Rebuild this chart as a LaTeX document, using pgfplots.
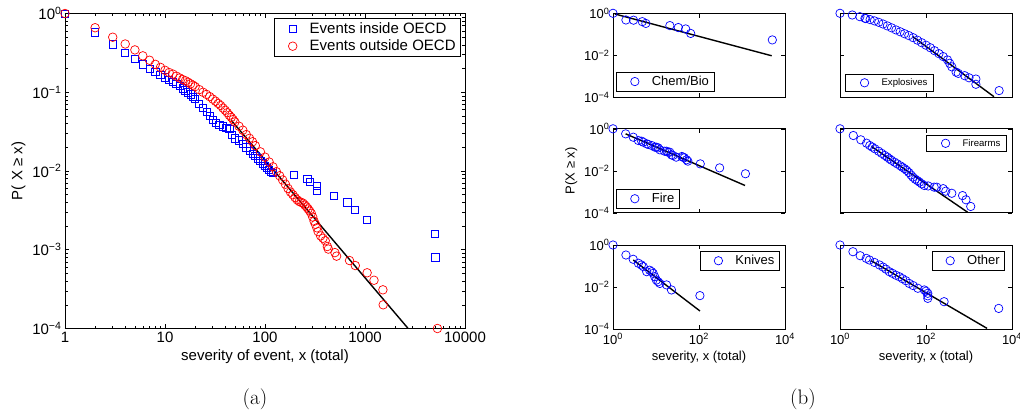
\documentclass[border=0pt]{standalone}
\usepackage{fontspec}
\usepackage{pgfplots}
\pgfplotsset{compat=1.18}
\newfontfamily\hv{Liberation Sans}
\begin{document}
\begin{tikzpicture}[x=1pt,y=1pt]
\pgfplotsset{
  every axis/.append style={scale only axis, xmode=log, ymode=log,
    axis line style={line width=0.8pt},
    every tick/.style={black, line width=0.6pt},
    xmin=1,xmax=10000,ymin=1e-4,ymax=1,
    legend cell align=left,
    legend style={draw=black, line width=0.8pt, fill=white},
    legend image code/.code={\path[draw=none,fill=none] (0pt,-4pt) rectangle (30pt,4pt); \draw[#1] plot coordinates {(15pt,0pt)};},
  },
  bcirc/.style={only marks, mark=o, mark size=4.2pt, mark options={draw=blue, line width=0.7pt}},
  fitl/.style={black, line width=1.4pt, no marks},
  small/.style={width=172pt, height=84pt, xtick={1,100,10000}, ytick={1e-4,1e-2,1},
    xminorticks=false, yminorticks=false,
    tick label style={font=\hv\fontsize{13}{15}\selectfont},
    xticklabel style={yshift=-1pt},
    label style={font=\hv\fontsize{13}{15}\selectfont}},
  noxl/.style={xticklabels={}},
  noyl/.style={yticklabels={}},
  xl/.style={xticklabels={10\textsuperscript{0},10\textsuperscript{2},10\textsuperscript{4}}, xlabel={severity, x (total)}},
  yl/.style={yticklabels={10\textsuperscript{−4},10\textsuperscript{−2},10\textsuperscript{0}}},
}
% ---------------- (a) ----------------
\begin{axis}[at={(65pt,-13.5pt)}, anchor=north west, width=400pt, height=315pt,
  xtick={1,10,100,1000,10000}, xticklabels={1,10,100,1000,10000},
  ytick={1e-4,1e-3,1e-2,1e-1,1},
  yticklabels={10\textsuperscript{−4},10\textsuperscript{−3},10\textsuperscript{−2},10\textsuperscript{−1},10\textsuperscript{0}},
  tick label style={font=\hv\fontsize{15}{17}\selectfont},
  label style={font=\hv\fontsize{15}{17}\selectfont},
  xlabel={severity of event, x (total)}, ylabel={P( X ≥ x)},
  legend style={at={(0.99,0.985)}, anchor=north east, font=\hv\fontsize{15}{17}\selectfont, row sep=1pt},
]
\addplot[only marks, mark=square, mark size=3.6pt, mark options={draw=blue, line width=0.7pt}] coordinates {
(1,1)(2,0.575)(3,0.405)(4,0.318)(5,0.264)(6,0.226)(7,0.197)(8,0.18)(9,0.165)(10,0.155)
(11,0.145)(12,0.137)(13,0.128)(14,0.12)(15,0.112)(16,0.106)(17,0.1)(18,0.094)(19,0.088)(20,0.082)
(22,0.072)(24,0.064)(26,0.057)(28,0.050)(30,0.045)(32,0.041)(35,0.039)(38,0.037)(41,0.035)(44,0.034)
(47,0.029)(50,0.026)(55,0.0245)(60,0.022)(65,0.020)(70,0.018)(75,0.0165)(80,0.0155)(85,0.0145)(90,0.0135)
(95,0.0125)(100,0.0115)(105,0.011)(110,0.0104)(115,0.0098)(120,0.0094)
(196,0.0089)(265,0.0080)(282,0.0072)(328,0.0065)(330,0.0056)(484,0.0048)(667,0.0040)(794,0.0032)(1047,0.0024)
(5012,0.0016)(5050,0.0008)
};
\addlegendentry{Events inside OECD}
\addplot[only marks, mark=o, mark size=4.3pt, mark options={draw=red, line width=0.7pt}] coordinates {
(1,1)(2,0.66)(3,0.50)(4,0.41)(5,0.345)(6,0.29)(7,0.255)(8,0.226)(9,0.207)(10,0.19)
(11,0.178)(12,0.17)(13,0.16)(14,0.152)(15,0.145)(16,0.14)(17,0.134)(18,0.128)(19,0.123)(20,0.118)
(22,0.108)(24,0.1)(26,0.094)(28,0.088)(30,0.082)(32,0.077)(34,0.072)(36,0.068)(38,0.063)(40,0.059)
(42,0.055)(44,0.051)(46,0.048)(48,0.045)(50,0.042)(55,0.037)(60,0.033)(65,0.029)(70,0.026)(75,0.0235)
(80,0.021)(90,0.0175)(100,0.0150)(110,0.0130)(120,0.0113)(130,0.0098)(140,0.0087)(150,0.0077)(160,0.0068)(170,0.006)
(180,0.0054)(190,0.0050)(200,0.0046)(210,0.0043)(220,0.0041)(230,0.0040)(240,0.0039)(250,0.0037)(260,0.0035)(270,0.0033)
(280,0.0031)(290,0.0029)(300,0.0026)(310,0.0023)(320,0.0021)(330,0.0019)(340,0.0017)(360,0.0015)(380,0.0014)(400,0.0013)
(420,0.0011)(430,0.00102)(500,0.00092)(520,0.00083)(700,0.00073)(800,0.00063)(1050,0.00051)(1230,0.00041)(1510,0.00031)(1520,0.00020)
(5300,0.0001)
};
\addlegendentry{Events outside OECD}
\addplot[fitl, forget plot] coordinates {(46,0.044)(2700,0.0001)};
\end{axis}
% ---------------- (b) ----------------
% Chem/Bio
\begin{axis}[small, noxl, yl, at={(613pt,-13.3pt)}, anchor=north west,
  legend style={at={(0.02,0.07)}, anchor=south west, font=\hv\fontsize{13}{15}\selectfont}]
\addplot[bcirc] coordinates {(1,1)(2,0.48)(3,0.47)(4.8,0.40)(5.8,0.33)(21,0.26)(33,0.21)(49,0.18)(64,0.11)(5070,0.054)};
\addlegendentry{Chem/Bio}
\addplot[fitl, forget plot] coordinates {(1.1,0.93)(4900,0.0095)};
\end{axis}
% Explosives
\begin{axis}[small, noxl, noyl, at={(840pt,-13.3pt)}, anchor=north west,
  legend style={at={(0.03,0.07)}, anchor=south west, font=\hv\fontsize{9.6}{11}\selectfont, inner xsep=4pt}]
\addplot[bcirc] coordinates {(1,1)(1.93,0.83)(2.9,0.69)(3.8,0.58)
(3.98,0.562)(5.01,0.501)(6.31,0.437)(7.94,0.372)(10,0.309)(12.6,0.251)(15.8,0.204)(20,0.162)(25.1,0.132)(31.6,0.107)
(39.8,0.0871)(50.1,0.0692)(63.1,0.0525)(79.4,0.0398)(100,0.0302)(126,0.0229)(158,0.0166)(200,0.0120)(251,0.00871)(316,0.00603)
(355,0.00417)(398,0.00282)(501,0.00158)(562,0.00138)(794,0.00107)(1000,0.000851)(1445,0.000741)(1445,0.000417)(5012,0.000209)};
\addlegendentry{Explosives}
\addplot[fitl, forget plot] coordinates {(49.5,0.0769)(3800,0.000107)};
\end{axis}
% Fire
\begin{axis}[small, noxl, yl, at={(613pt,-128.8pt)}, anchor=north west, ylabel={P(X ≥ x)},
  legend style={at={(0.02,0.05)}, anchor=south west, font=\hv\fontsize{13}{15}\selectfont}]
\addplot[bcirc] coordinates {(1,1)(1.97,0.575)(2.96,0.398)(3.89,0.277)(4.64,0.257)(5.07,0.229)(6.07,0.193)(6.62,0.179)(7.94,0.160)
(9.48,0.133)(10.2,0.133)(11.2,0.124)(12.3,0.1)(15.8,0.0857)(17.6,0.0857)(19,0.0769)(20.9,0.0769)(22.9,0.0575)(24.8,0.0537)
(29.5,0.0447)(39.8,0.0479)(42.7,0.0447)(45.7,0.0417)(51.3,0.0334)(55,0.0288)(107,0.0214)(302,0.0138)(1202,0.00724)};
\addlegendentry{Fire}
\addplot[fitl, forget plot] coordinates {(1.97,0.575)(1175,0.002)};
\end{axis}
% Firearms
\begin{axis}[small, noxl, noyl, at={(840pt,-128.8pt)}, anchor=north west,
  legend style={at={(0.97,0.93)}, anchor=north east, font=\hv\fontsize{9.6}{11}\selectfont, inner xsep=4pt}]
\addplot[bcirc] coordinates {(1,1)(2.04,0.479)(3.05,0.299)(4.14,0.207)(4.93,0.160)(5.62,0.135)(6.46,0.112)(7.94,0.0851)(9.33,0.0676)
(11,0.0537)(12.6,0.0447)(14.1,0.0372)(15.8,0.0316)(18.6,0.0257)(21.4,0.0214)(25.1,0.0174)(28.2,0.0148)(31.6,0.0126)(35.5,0.0105)
(39.8,0.00832)(44.7,0.00631)(49.5,0.00501)(56.2,0.00398)(63.1,0.00339)(70.8,0.00288)(79.4,0.0024)(91.2,0.002)(112,0.0019)
(155,0.00166)(178,0.00166)(251,0.00141)(288,0.00107)(398,0.000851)(708,0.000661)(851,0.000417)(1096,0.0002)};
\addlegendentry{Firearms}
\addplot[fitl, forget plot] coordinates {(5.4,0.1435)(923,0.000107)};
\end{axis}
% Knives
\begin{axis}[small, xl, yl, at={(613pt,-245pt)}, anchor=north west,
  legend style={at={(0.97,0.93)}, anchor=north east, font=\hv\fontsize{13}{15}\selectfont}]
\addplot[bcirc] coordinates {(1,1)(2,0.334)(2.95,0.209)(3.89,0.135)(4.57,0.112)(5.07,0.0933)(6.07,0.0537)(7.08,0.0631)(7.94,0.0537)
(8.61,0.0447)(9.33,0.0309)(10.2,0.0214)(11.2,0.0178)(12.3,0.0148)(17.6,0.0126)(22.9,0.00724)(105,0.00389)};
\addlegendentry{Knives}
\addplot[fitl, forget plot] coordinates {(2.95,0.193)(105,0.000724)};
\end{axis}
% Other
\begin{axis}[small, xl, noyl, at={(840pt,-245pt)}, anchor=north west,
  legend style={at={(0.96,0.93)}, anchor=north east, font=\hv\fontsize{13}{15}\selectfont}]
\addplot[bcirc] coordinates {(1,1)(2,0.479)(2.95,0.309)(4.07,0.232)(4.84,0.193)(6.31,0.148)(8.26,0.112)(10,0.0891)(11.7,0.0708)
(14,0.0537)(16.6,0.0447)(20,0.0363)(24,0.0309)(28.2,0.0251)(33.9,0.02)(40.7,0.0148)(50.1,0.0117)(64.6,0.00871)(91.2,0.00724)
(100,0.00631)(110,0.00501)(110,0.0038)(110,0.00288)(263,0.002)(4900,0.000955)};
\addlegendentry{Other}
\addplot[fitl, forget plot] coordinates {(5.31,0.179)(2630,0.000107)};
\end{axis}
\node[font=\fontsize{21}{24}\selectfont] at (255pt,-399pt) {(a)};
\node[font=\fontsize{21}{24}\selectfont] at (803pt,-399pt) {(b)};
\pgfresetboundingbox
\useasboundingbox (0pt,0pt) rectangle (1020pt,-415pt);
\end{tikzpicture}
\end{document}
